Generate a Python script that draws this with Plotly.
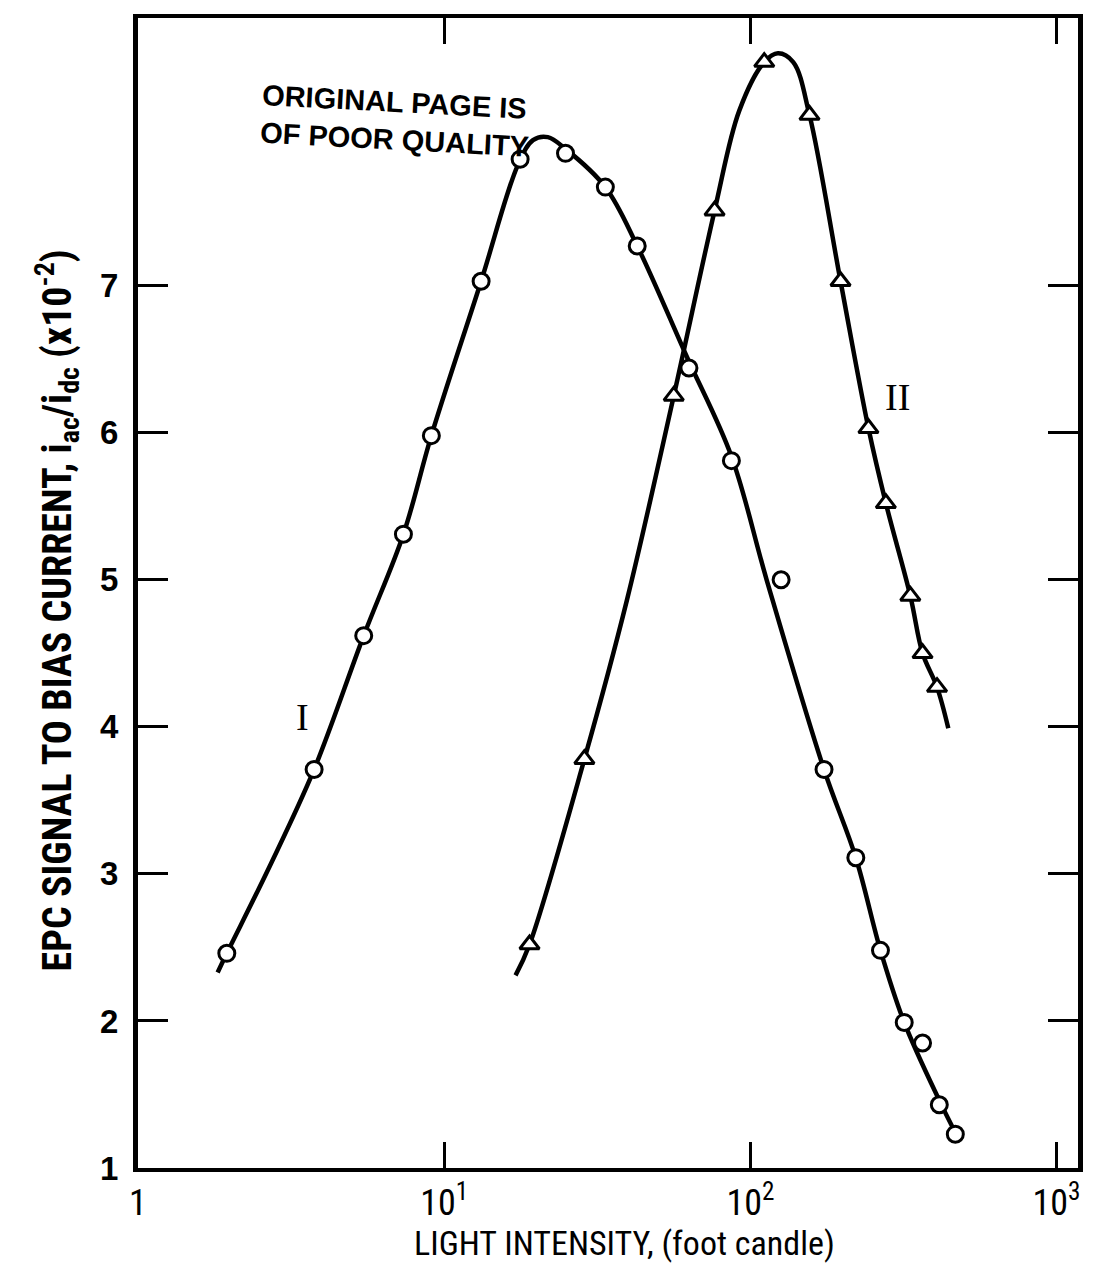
import math
import plotly.graph_objects as go

# ---- data ----
# Curve I : measured points (open circles)
i_x = [1.95, 3.76, 5.46, 7.36, 9.08, 13.2, 17.7, 24.9, 33.6, 42.7,
       63.0, 86.7, 126, 174, 221, 266, 318, 365, 414, 467]
i_y = [2.46, 3.71, 4.62, 5.31, 5.98, 7.03, 7.86, 7.90, 7.67, 7.27,
       6.44, 5.81, 5.00, 3.71, 3.11, 2.48, 1.99, 1.85, 1.43, 1.23]

# Curve II : measured points (open triangles)
ii_x = [19.0, 28.7, 56.2, 76.4, 111, 156, 197, 243, 277, 333, 365, 407]
ii_y = [2.52, 3.78, 6.25, 7.51, 8.52, 8.16, 7.03, 6.03, 5.52, 4.89, 4.50, 4.27]

# Hand-drawn smooth curves
ci_x = [1.82, 1.95, 2.69, 3.76, 5.46, 7.36, 9.08, 13.2, 17.4, 19.5, 21.8, 24.9,
        33.6, 42.7, 61.9, 86.7, 113, 174, 221, 266, 318, 414, 478]
ci_y = [2.33, 2.46, 3.05, 3.71, 4.62, 5.31, 5.98, 7.03, 7.82, 7.99, 8.01, 7.93,
        7.67, 7.27, 6.52, 5.84, 5.00, 3.71, 3.11, 2.48, 1.99, 1.46, 1.20]

cii_x = [17.1, 19.0, 28.7, 39.5, 56.2, 76.4, 92.0, 111, 123, 138, 156, 197,
         243, 277, 333, 365, 407, 443]
cii_y = [2.31, 2.52, 3.78, 4.86, 6.25, 7.51, 8.19, 8.52, 8.58, 8.52, 8.16, 7.03,
         6.03, 5.52, 4.89, 4.50, 4.27, 3.99]

# curve labels: (text, light intensity, value)
curve_labels = [("I", 3.44, 4.07), ("II", 303, 6.24)]

x_ticks = [1, 10, 100, 1000]
x_tick_labels = ["1", "10<sup>1</sup>", "10<sup>2</sup>", "10<sup>3</sup>"]
y_ticks = [1, 2, 3, 4, 5, 6, 7]
y_tick_labels = ["1", "2", "3", "4", "5", "6", "7"]

NARROW = "Liberation Sans Narrow, Roboto Condensed, Liberation Sans, Arial, sans-serif"
SANS = "Liberation Sans, Arial, sans-serif"

fig = go.Figure()

fig.add_trace(go.Scatter(x=ci_x, y=ci_y, mode="lines",
                         line=dict(color="black", width=4.5, shape="spline", smoothing=1.0),
                         hoverinfo="skip", showlegend=False))
fig.add_trace(go.Scatter(x=cii_x, y=cii_y, mode="lines",
                         line=dict(color="black", width=4.5, shape="spline", smoothing=1.0),
                         hoverinfo="skip", showlegend=False))
fig.add_trace(go.Scatter(x=i_x, y=i_y, mode="markers", name="I",
                         marker=dict(symbol="circle", size=16, color="white",
                                     line=dict(color="black", width=3)),
                         showlegend=False))
fig.add_trace(go.Scatter(x=ii_x, y=ii_y, mode="markers", name="II",
                         marker=dict(symbol="triangle-up", size=17, color="white",
                                     line=dict(color="black", width=3)),
                         showlegend=False))

fig.update_layout(
    width=1094, height=1268,
    margin=dict(l=138, r=11, t=18, b=100),
    plot_bgcolor="white", paper_bgcolor="white",
    font=dict(family=NARROW, color="black"),
    xaxis=dict(type="log", range=[0, 3.07], tickvals=x_ticks, ticktext=x_tick_labels,
               ticks="inside", ticklen=26, tickwidth=3, tickcolor="black",
               showline=True, linewidth=4, linecolor="black", mirror="ticks",
               showgrid=False, zeroline=False,
               tickfont=dict(size=36, family=NARROW)),
    yaxis=dict(range=[1.0, 8.82], tickvals=y_ticks, ticktext=["<b>%s</b>" % t for t in y_tick_labels],
               ticks="inside", ticklen=30, tickwidth=3, tickcolor="black",
               showline=True, linewidth=5, linecolor="black", mirror="ticks",
               showgrid=False, zeroline=False,
               tickfont=dict(size=33, family=SANS),
               ticklabelstandoff=8),
)

fig.add_annotation(text="LIGHT INTENSITY, (foot candle)", xref="paper", yref="paper",
                   x=0.518, y=-0.0655, xanchor="center", yanchor="middle", showarrow=False,
                   font=dict(size=34, family=NARROW))
fig.add_annotation(text="<b>EPC SIGNAL TO BIAS CURRENT, i<sub>ac</sub>/i<sub>dc</sub> (x10<sup>-2</sup>)</b>",
                   xref="paper", yref="paper", x=-0.086, y=0.485, xanchor="center", yanchor="middle",
                   textangle=-90, showarrow=False,
                   font=dict(size=40, family=NARROW))
fig.add_annotation(text="<b>ORIGINAL PAGE IS<br>OF POOR QUALITY</b>", xref="paper", yref="paper",
                   x=0.127, y=0.91, xanchor="left", yanchor="middle", align="left",
                   textangle=3, showarrow=False,
                   font=dict(size=29, family=SANS))
for txt, lx, ly in curve_labels:
    # annotations on a log axis take log10 positions
    fig.add_annotation(text=txt, x=math.log10(lx), y=ly, xref="x", yref="y", showarrow=False,
                       font=dict(size=38, family="Liberation Serif, serif"))

fig.write_html("out.html")
